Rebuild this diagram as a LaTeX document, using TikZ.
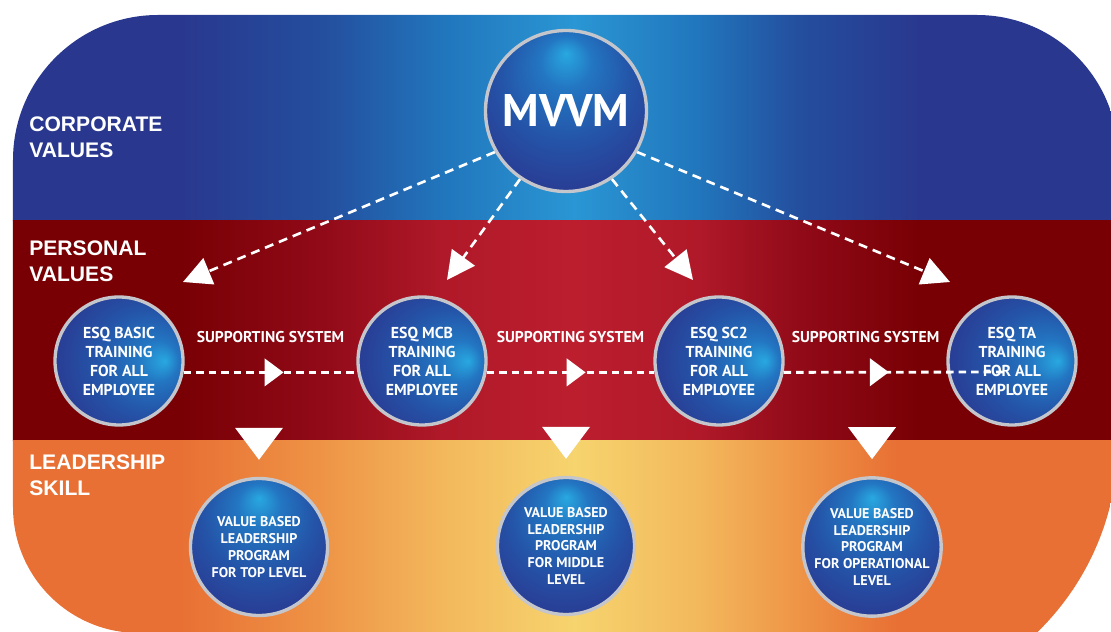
\documentclass[tikz,border=0pt]{standalone}
\usepackage{fontspec}
\newfontfamily\orbfont{PT Sans}
\newfontfamily\bandfont{Liberation Sans}
\usetikzlibrary{positioning,arrows.meta,calc,shapes,decorations.markings}

\definecolor{navy}{RGB}{41,56,142}
\definecolor{skymid}{RGB}{36,78,158}
\definecolor{skyhi}{RGB}{33,118,188}
\definecolor{skytop}{RGB}{42,150,212}
\definecolor{wine}{RGB}{120,0,4}
\definecolor{redmid}{RGB}{145,10,24}
\definecolor{redhi}{RGB}{176,25,41}
\definecolor{redtop}{RGB}{188,30,46}
\definecolor{ember}{RGB}{232,112,52}
\definecolor{ambmid}{RGB}{238,148,70}
\definecolor{ambhi}{RGB}{243,184,92}
\definecolor{ambtop}{RGB}{246,212,110}
\definecolor{orbhi}{RGB}{40,168,224}
\definecolor{orbmid}{RGB}{35,118,194}
\definecolor{orbdeep}{RGB}{36,84,168}
\definecolor{orbnavy}{RGB}{42,56,144}
\definecolor{rim}{RGB}{196,198,204}

\pgfdeclarehorizontalshading{skyband}{100bp}{color(0bp)=(navy); color(32.6bp)=(navy);
    color(39bp)=(skymid); color(44.5bp)=(skyhi); color(50.4bp)=(skytop); color(56bp)=(skyhi);
    color(60.6bp)=(skymid); color(66bp)=(navy); color(100bp)=(navy)}
\pgfdeclarehorizontalshading{redband}{100bp}{color(0bp)=(wine); color(32.6bp)=(wine);
    color(39bp)=(redmid); color(44.5bp)=(redhi); color(50.4bp)=(redtop); color(56bp)=(redhi);
    color(60.6bp)=(redmid); color(66bp)=(wine); color(100bp)=(wine)}
\pgfdeclarehorizontalshading{amberband}{100bp}{color(0bp)=(ember); color(32.6bp)=(ember);
    color(39bp)=(ambmid); color(44.5bp)=(ambhi); color(50.4bp)=(ambtop); color(56bp)=(ambhi);
    color(60.6bp)=(ambmid); color(65bp)=(ember); color(100bp)=(ember)}
\pgfdeclareradialshading{orbtop}{\pgfpoint{0bp}{18bp}}{color(0bp)=(orbhi); color(8bp)=(orbmid);
    color(20bp)=(orbdeep); color(34bp)=(orbnavy); color(50bp)=(orbnavy)}
\pgfdeclareradialshading{orbside}{\pgfpoint{18bp}{0bp}}{color(0bp)=(orbhi); color(8bp)=(orbmid);
    color(20bp)=(orbdeep); color(34bp)=(orbnavy); color(50bp)=(orbnavy)}

\tikzset{
    orb/.style = {
        draw=rim,
        shape=circle,
        line width=1.9pt,
        shade,
        text=white,
        align=center,
        inner sep=0pt
    },
    toporb/.style = {
        orb,
        shading=orbtop,
        minimum size=3.22cm,
        font=\orbfont\bfseries\fontsize{26}{28}\selectfont
    },
    trainorb/.style = {
        orb,
        shading=orbside,
        minimum size=2.56cm,
        font=\orbfont\bfseries\fontsize{9}{10.8}\selectfont
    },
    levelorb/.style = {
        orb,
        shading=orbtop,
        minimum size=2.74cm,
        font=\orbfont\bfseries\fontsize{8}{9.6}\selectfont
    },
    band/.style = {
        anchor=west,
        align=left,
        inner sep=0pt,
        text=white,
        font=\bandfont\bfseries\fontsize{12}{14.8}\selectfont
    },
    cascade/.style = {
        draw,
        white,
        line width=1.5pt,
        dash pattern=on 0.18cm off 0.12cm,
        -{Triangle[length=0.56cm,width=0.56cm]}
    },
    support/.style = {
        draw,
        white,
        line width=1.6pt,
        dash pattern=on 0.15cm off 0.1cm,
        postaction={decorate, decoration={markings,
            mark=at position #1 with {\arrow{Triangle[length=0.38cm,width=0.55cm]}}}}
    },
    supportlabel/.style = {
        text=white,
        inner sep=0pt,
        font=\orbfont\bfseries\fontsize{8.9}{10}\selectfont
    },
}

\begin{document}
\begin{tikzpicture}
    \useasboundingbox (0,0) rectangle (22.22,12.64);

    % background bands
    \begin{scope}
        \clip (0.26,9.44) arc (180:90:2.9) -- (19.54,12.34) arc (90:0:2.82) -- (22.36,3.82)
            arc (0:-90:5.34) -- (2.78,-0.02) arc (270:180:2.52) -- cycle;
        \path[shade, shading=skyband] (0.26,8.22) rectangle (22.36,12.4);
        \path[shade, shading=redband] (0.26,3.82) rectangle (22.36,8.22);
        \path[shade, shading=amberband] (0.26,-1.6) rectangle (22.36,3.82);
    \end{scope}

    \node[band] (corp) at (0.58,9.9) {CORPORATE\\VALUES};
    \node[band] (pers) at (0.58,7.42) {PERSONAL\\VALUES};
    \node[band] (lead) at (0.58,3.14) {LEADERSHIP\\SKILL};

    \node[toporb] (mvvm) at (11.32,10.42) {MVVM};

    \node[trainorb] (basic) at (2.38,5.42) {ESQ BASIC\\TRAINING\\FOR ALL\\EMPLOYEE};
    \node[trainorb] (mcb) at (8.44,5.42) {ESQ MCB\\TRAINING\\FOR ALL\\EMPLOYEE};
    \node[trainorb] (sctwo) at (14.38,5.42) {ESQ SC2\\TRAINING\\FOR ALL\\EMPLOYEE};
    \node[trainorb] (ta) at (20.24,5.42) {ESQ TA\\TRAINING\\FOR ALL\\EMPLOYEE};

    \node[levelorb] (toplvl) at (5.18,1.70) {VALUE BASED\\LEADERSHIP\\PROGRAM\\FOR TOP LEVEL};
    \node[levelorb] (midlvl) at (11.32,1.72) {VALUE BASED\\LEADERSHIP\\PROGRAM\\FOR MIDDLE\\LEVEL};
    \node[levelorb] (oplvl) at (17.44,1.70) {VALUE BASED\\LEADERSHIP\\PROGRAM\\FOR OPERATIONAL\\LEVEL};

    \coordinate (basictip) at (3.66,7.0);
    \coordinate (mcbtip) at (8.94,7.04);
    \coordinate (sctwotip) at (13.86,7.04);
    \coordinate (tatip) at (19.0,7.0);
    \coordinate (taend) at (20.1,5.2);

    \path[cascade] (mvvm.210) -- (basictip);
    \path[cascade] (mvvm.236) -- (mcbtip);
    \path[cascade] (mvvm.304) -- (sctwotip);
    \path[cascade] (mvvm.330) -- (tatip);

    \path[support=0.575] (basic.-10) -- (mcb.190) node [pos=0.5, above=0.57cm, supportlabel] {SUPPORTING SYSTEM};
    \path[support=0.59] (mcb.-10) -- (sctwo.190) node [pos=0.5, above=0.57cm, supportlabel] {SUPPORTING SYSTEM};
    \path[support=0.475] (sctwo.-10) -- (taend) node [pos=0.37, above=0.57cm, supportlabel] {SUPPORTING SYSTEM};

    \foreach \lvl in {toplvl,midlvl,oplvl}
        \fill[white] ($(\lvl.north)+(-0.48,0.98)$) -- ++(0.96,0) -- ++(-0.48,-0.64) -- cycle;
\end{tikzpicture}
\end{document}
